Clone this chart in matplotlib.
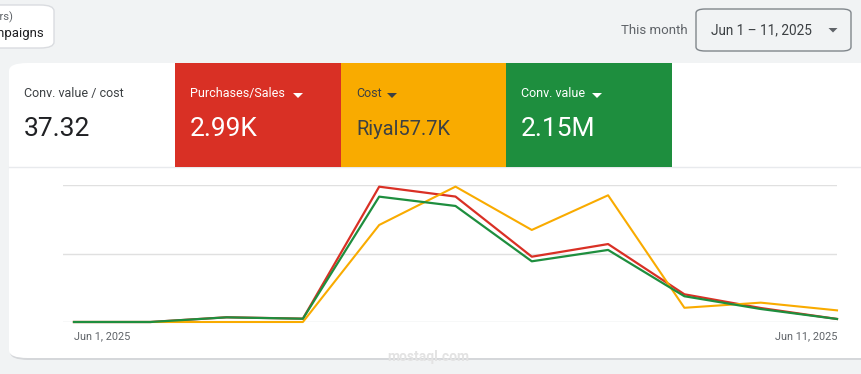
import matplotlib.pyplot as plt
from matplotlib.patches import FancyBboxPatch, Rectangle, Polygon
from matplotlib.lines import Line2D

# --- data (daily values, Jun 1 .. Jun 11, 2025) ---
days = list(range(11))
purchases = [0, 0, 31, 22, 889, 824, 429, 512, 182, 92, 20]
cost = [0, 0, 0, 0, 11330, 15810, 10750, 14800, 1660, 2260, 1360]
conv_value = [0, 0, 23800, 16800, 640500, 592900, 310100, 368200, 131600, 66500, 15400]

x_labels = ["Jun 1, 2025", "Jun 11, 2025"]
tile_titles = ["Conv. value / cost", "Purchases/Sales", "Cost", "Conv. value"]
tile_values = ["37.32", "2.99K", "Riyal57.7K", "2.15M"]
value_sizes = [19, 19, 14.5, 19]

RED = "#d93025"
ORANGE = "#f9ab00"
GREEN = "#1e8e3e"
BG = "#f1f3f4"
DARK = "#3c4043"
GREY = "#5f6368"

W, H = 862, 374
plt.rcParams['font.family'] = ['Roboto', 'DejaVu Sans']

fig = plt.figure(figsize=(W / 100, H / 100), dpi=100)
fig.patch.set_facecolor(BG)


def fx(x):
    return x / W


def fy(y):
    return 1 - y / H


def box(x0, y0, x1, y1, fc, ec="none", r=0, lw=1, z=1):
    if r:
        p = FancyBboxPatch((fx(x0), fy(y1)), fx(x1 - x0), (y1 - y0) / H,
                           boxstyle="round,pad=0,rounding_size=%f" % (r / H),
                           transform=fig.transFigure, fc=fc, ec=ec, lw=lw, zorder=z,
                           mutation_aspect=1)
    else:
        p = Rectangle((fx(x0), fy(y1)), fx(x1 - x0), (y1 - y0) / H,
                      transform=fig.transFigure, fc=fc, ec=ec, lw=lw, zorder=z)
    fig.patches.append(p)


def caret(x, y, color, w=10, h=5):
    pts = [(fx(x - w / 2), fy(y)), (fx(x + w / 2), fy(y)), (fx(x), fy(y + h))]
    fig.patches.append(Polygon(pts, closed=True, transform=fig.transFigure,
                               fc=color, ec="none", zorder=5))


# --- top controls (partly cut off at the left edge, as in the screenshot) ---
box(-20, 5, 54, 48, "white", ec="#dadce0", r=6, z=2)
fig.text(fx(13), fy(17), "(Other filters)", ha="right", va="center", fontsize=8, color=GREY, zorder=3)
fig.text(fx(44), fy(33), "Campaigns", ha="right", va="center", fontsize=9.5, color="#202124", zorder=3)

fig.text(fx(688), fy(30), "This month", ha="right", va="center", fontsize=9.5, color=GREY)
box(696, 9, 851, 51, BG, ec="#80868b", r=4, z=2)
fig.text(fx(711), fy(30), "Jun 1 \u2013 11, 2025", ha="left", va="center", fontsize=9.8, color=DARK, zorder=3)
caret(833, 28, GREY, w=9, h=4.5)

# --- card ---
box(10, 65, 880, 360, "#d5d7da", r=8, z=1)  # shadow
box(9, 63, 880, 358, "white", r=8, z=2)
fig.lines.append(Line2D([fx(9), fx(862)], [fy(167), fy(167)], transform=fig.transFigure,
                        color="#e8eaed", lw=1, zorder=3))

# --- metric tiles ---
tiles = [(9, "white", DARK, "#202124"), (175, RED, "white", "white"),
         (341, ORANGE, DARK, DARK), (506, GREEN, "white", "white")]
for i, (x0, fc, tc, vc) in enumerate(tiles):
    if i > 0:
        box(x0, 63, x0 + 166, 167, fc, z=3)
    tx = x0 + 15
    fig.text(fx(tx), fy(93.5), tile_titles[i], ha="left", va="center", fontsize=9,
             color=tc, zorder=4)
    fig.text(fx(tx), fy(129), tile_values[i], ha="left", va="center", fontsize=value_sizes[i],
             color=vc, zorder=4)
caret(298, 93, "white")
caret(392, 93, DARK)
caret(597, 93, "white")

# --- chart ---
ax = fig.add_axes([fx(63), fy(322), fx(837 - 63), (322 - 185) / H])
ax.set_zorder(5)
ax.patch.set_alpha(0)
ax.set_xlim(-0.144, 10)
for v in [0, 0.5, 1.0]:
    ax.axhline(v * 900, color="#e0e0e0" if v else "#dadce0", lw=1, zorder=0)
ax.set_ylim(0, 900)

ax_cost = ax.twinx()
ax_cost.set_ylim(0, 16000)
ax_val = ax.twinx()
ax_val.set_ylim(0, 700000)

ax_cost.plot(days, cost, color=ORANGE, lw=1.5, clip_on=False, zorder=3)
ax.plot(days, purchases, color=RED, lw=1.6, clip_on=False, zorder=3)
ax_val.plot(days, conv_value, color=GREEN, lw=1.6, clip_on=False, zorder=3)

for a in (ax, ax_cost, ax_val):
    for s in a.spines.values():
        s.set_visible(False)
    a.set_xticks([])
    a.set_yticks([])

fig.text(fx(74), fy(336), x_labels[0], ha="left", va="center", fontsize=7.8, color=GREY, zorder=6)
fig.text(fx(837), fy(336), x_labels[1], ha="right", va="center", fontsize=7.8, color=GREY, zorder=6)

fig.text(fx(428), fy(357), "mostaql.com", ha="center", va="center", fontsize=10,
         color="#e3e3e3", fontweight="bold", zorder=6)

fig.savefig("out.png", dpi=100, facecolor=fig.get_facecolor())
